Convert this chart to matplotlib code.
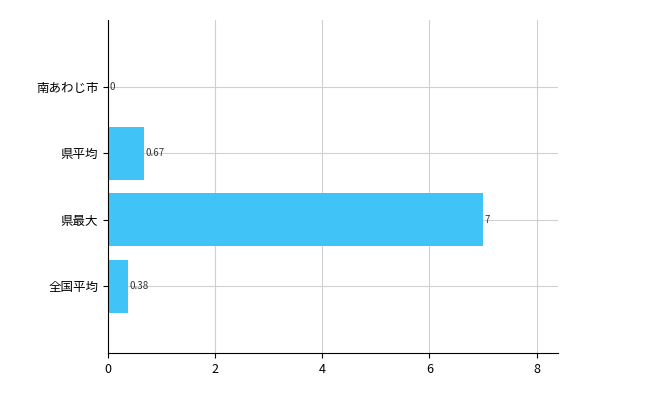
import matplotlib
matplotlib.use("Agg")
import matplotlib.pyplot as plt

plt.rcParams['font.family'] = ['Noto Sans CJK JP', 'DejaVu Sans']

categories = ["南あわじ市", "県平均", "県最大", "全国平均"]
values = [0, 0.67, 7, 0.38]
labels = ["0", "0.67", "7", "0.38"]
xticks = [0, 2, 4, 6, 8]

fig = plt.figure(figsize=(6.5, 4.0), dpi=100)
ax = fig.add_axes([108/650, 47/400, 450/650, 333/400])
pos = list(range(len(categories)))
ax.barh(pos, values, height=0.8, color="#40C4F8", zorder=2)
for p, v, l in zip(pos, values, labels):
    ax.text(v + 0.03, p, l, va="center", ha="left", fontsize=7, color="#333333")
ax.set_yticks(pos)
ax.set_yticklabels(categories, fontsize=9)
ax.set_xticks(xticks)
ax.tick_params(axis='x', labelsize=9)
ax.set_xlim(0, 8.4)
ax.set_ylim(4.0, -1.0)
ax.grid(True, color="#d0d0d0", linewidth=0.8, zorder=0)
ax.spines['top'].set_visible(False)
ax.spines['right'].set_visible(False)
fig.savefig("out.png", dpi=100)
